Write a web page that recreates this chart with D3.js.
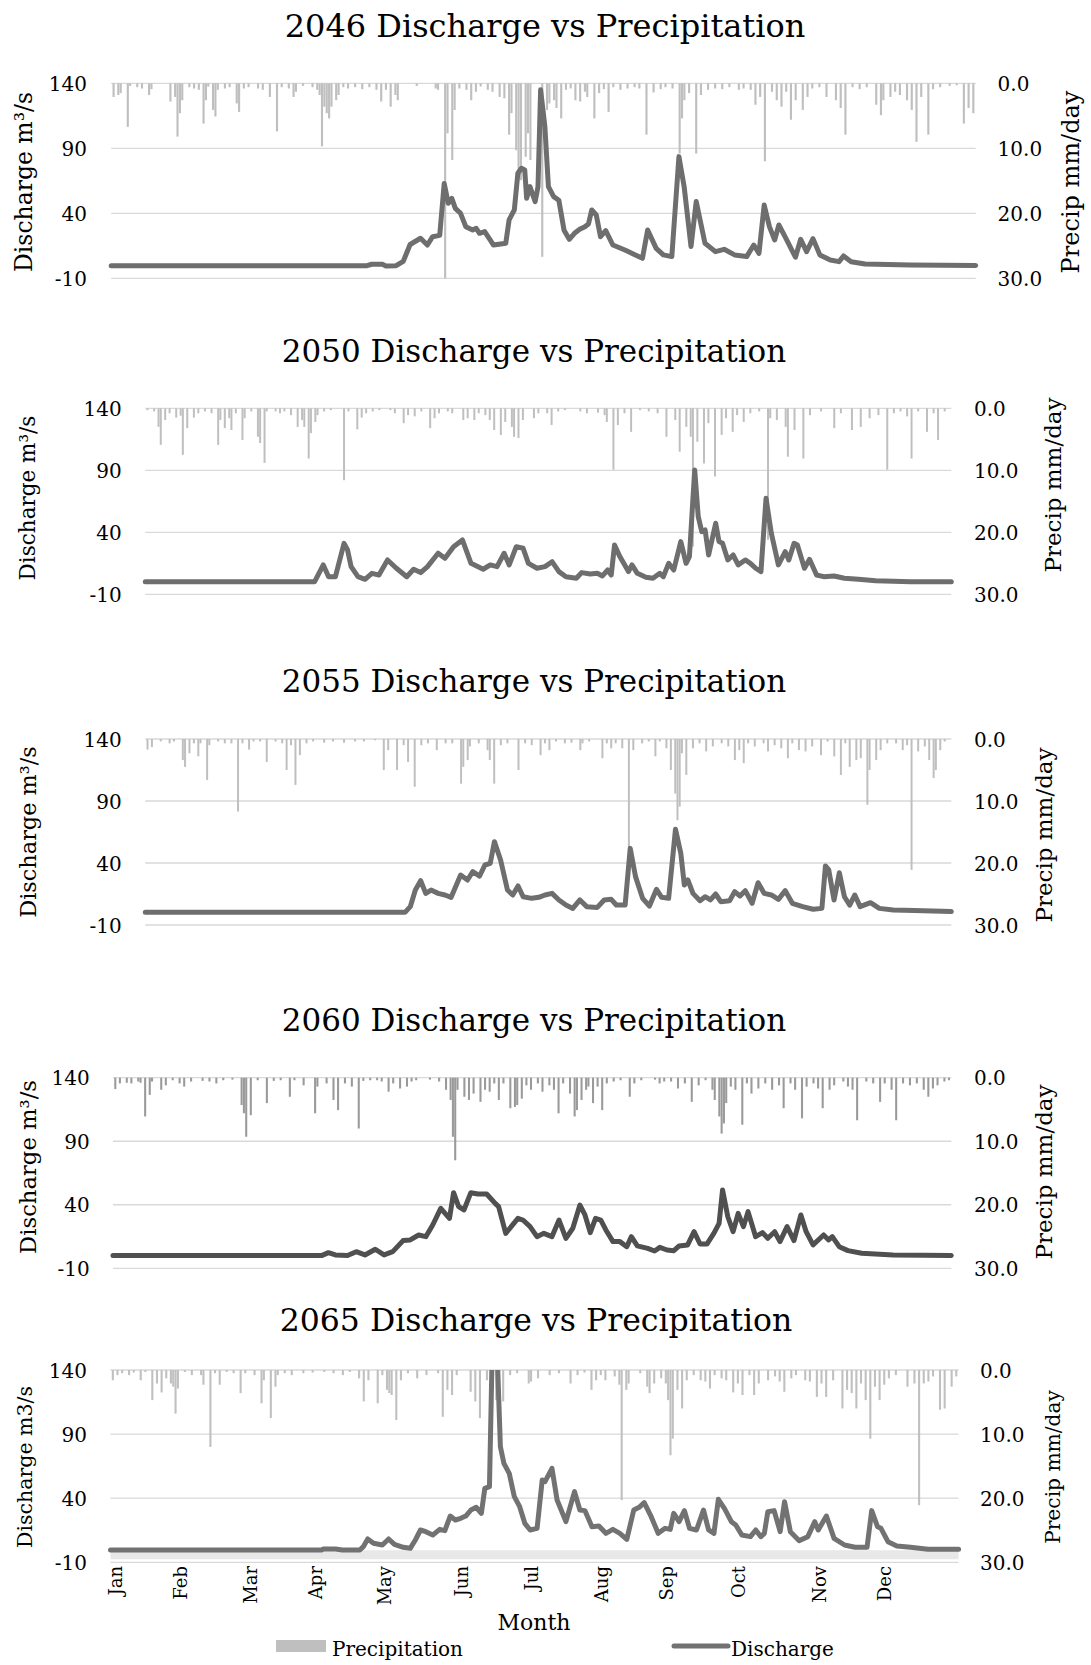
<!DOCTYPE html>
<html>
<head>
<meta charset="utf-8">
<script src="https://cdn.jsdelivr.net/npm/d3@7"></script>
<style>
  body { margin: 0; background: #fff; }
  svg text { font-family: "DejaVu Serif", serif; fill: #000; }
</style>
</head>
<body>
<svg id="chart" width="1091" height="1665"></svg>
<script>
// ---- data: [day of year, value] ----
const years = ["2046", "2050", "2055", "2060", "2065"];
const dischargeTicks = [-10, 40, 90, 140];
const precipTicks = [0, 10, 20, 30];
const months = ["Jan","Feb","Mar","Apr","May","Jun","Jul","Aug","Sep","Oct","Nov","Dec"];
const monthDays = [2, 30, 60, 88, 118, 151, 181, 211, 239, 270, 305, 333];
const band2065 = [-7.6, -0.6];

const discharge2046 = [[0,-0.3],[108,-0.3],[110,0.8],[114.5,0.8],[116,-0.5],[120.3,-0.3],[123.3,3],[126.2,16],[130.6,20.8],[133.5,15.6],[135.7,22],[138.7,23],[140.6,63],[142.3,47.7],[143.8,51.5],[145.3,43.8],[147.5,40],[149.7,29.7],[152.6,27.2],[154.1,28.5],[155.5,24.6],[157.7,25.9],[160,19.5],[161.4,15.6],[164.4,16.4],[166.6,17],[168,35],[170.2,42.6],[171.7,70.8],[173.2,74.6],[174.6,73.3],[175.4,51.5],[176.8,60.5],[179,49],[180.2,60.5],[181.3,135],[183.1,106.7],[184.6,60.5],[186.8,52.8],[189,50],[191.2,27],[193.4,20],[195.6,24.6],[197.8,27.7],[200,29.7],[201.5,31.8],[202.9,42.6],[204.8,38.7],[206.6,22],[208.8,26.7],[211.8,15.6],[216.9,11.8],[221.3,8],[224.3,5.4],[226.5,27.2],[230.1,13],[233.1,8],[236.7,6.7],[239.7,83.6],[241.9,60.5],[244.8,14.4],[247,49],[250.7,17],[255.1,10.5],[258.8,12.3],[263.2,8],[268.3,6.7],[271.3,15.6],[273.5,9.2],[275.7,46.4],[277.9,29.7],[280.1,19.5],[281.9,31],[284.5,22],[288.9,6.2],[291.1,20],[293.6,10.5],[296.3,20.5],[299.2,8],[303.6,4.1],[307.3,2.8],[309.2,7.2],[312.4,2.8],[318.3,1],[337.4,0.3],[365,-0.2]];
const precip2046 = [[1,2.1],[3,1.8],[4,1.5],[7,6.7],[8,0.4],[11,0.6],[13,0.8],[16,1.8],[17,0.9],[25,2.8],[27,2.1],[28,8.2],[29,4.6],[30,2.6],[33,0.6],[35,0.8],[37,1],[39,6.2],[40,2.6],[41,0.5],[43,4.1],[44,5.1],[45,1],[48,0.8],[50,0.6],[53,3.1],[54,4.4],[56,0.8],[58,0.6],[62,0.8],[64,1],[67,2.1],[70,7.4],[72,0.6],[75,0.8],[77,2.1],[78,1.3],[81,0.4],[85,0.6],[87,1],[88,1.8],[89,9.7],[90,3.6],[91,4.6],[92,5.4],[93,3.6],[95,2.6],[96,1.8],[98,0.6],[100,0.8],[103,0.6],[106,0.9],[109,0.6],[112,1],[114,2.8],[116,1],[118,3.6],[120,1.8],[121,2.6],[129,0.4],[137,0.8],[138,1],[141,30],[142,7.7],[144,11.8],[145,4.1],[147,0.8],[150,1],[152,2.6],[154,1.3],[156,0.5],[159,1],[161,1.3],[164,2.1],[166,2.3],[168,7.9],[169,4.6],[171,10.3],[172,13.3],[173,14.9],[175,11.3],[176,7.7],[177,11.8],[182,26.7],[184,4.1],[185,3.1],[187,2.6],[188,3.8],[190,5.4],[192,1],[194,0.8],[196,2.6],[198,2.8],[200,1.3],[201,2.1],[204,5.4],[206,1.5],[208,0.9],[210,4.4],[212,0.6],[215,1],[218,0.8],[221,0.6],[223,0.8],[226,7.9],[229,1.4],[232,0.9],[234,0.6],[237,0.8],[240,10.8],[241,5.4],[242,2.6],[244,1.5],[247,10.8],[249,1.8],[252,1],[255,0.8],[258,0.9],[261,0.6],[265,1],[267,0.8],[270,1],[272,3.3],[274,2.1],[276,12],[279,1.3],[281,2.6],[283,3.6],[285,1.3],[287,5.6],[289,2.6],[292,4.1],[294,2.1],[296,0.8],[299,0.6],[302,2.1],[306,2.6],[308,3.8],[310,7.9],[313,0.6],[316,0.9],[319,0.6],[323,3.3],[325,4.9],[326,2.6],[329,2.1],[331,1.3],[333,1.8],[336,2.6],[338,4.1],[340,9],[342,2.1],[345,7.9],[347,0.9],[350,0.6],[354,0.4],[357,0.3],[360,6.2],[362,3.8],[364,4.6]];

const discharge2050 = [[0,0.2],[76.7,0.2],[80.6,13.7],[83,4.2],[86.1,4.2],[90,31.1],[91.6,25.8],[93.2,12.3],[96.3,4.2],[99.5,2.1],[102.6,6.9],[105.8,5.6],[109.7,17.7],[113.7,11],[118.4,4.2],[121.5,10.2],[124.7,7.5],[127.8,12.3],[132.6,23.1],[135.7,19],[139.6,28.4],[143.6,33.8],[147.5,15],[153,10.2],[156.2,13.7],[159.3,12.3],[162.5,23.1],[164.8,13.7],[168,28.4],[171.1,27.1],[173.5,15],[177.4,11],[181,12.3],[184.2,16.3],[187.3,8.3],[190.5,4.2],[195.2,2.9],[197.6,7.5],[201.5,6.4],[204.7,6.9],[207,4.8],[209.4,9.6],[211,5.6],[212.5,29.8],[214.9,20.4],[218.8,8.3],[220.4,13.7],[222.8,6.9],[226.7,3.7],[229.9,2.9],[233,6.9],[234.6,4.2],[237,15],[239.3,9.6],[242.5,32.5],[244.9,15],[246.4,20.4],[248.8,90.3],[250.4,52.6],[252,40.5],[253.5,41.9],[255.1,21.7],[258.3,47.3],[259.8,32.5],[261.4,31.1],[263.8,17.7],[266.2,21.7],[268.5,13.7],[271.7,17.7],[274,15],[276.4,11],[278.8,8.3],[281.1,67.4],[283.5,39.2],[286.7,13.7],[289.8,24.4],[291.4,17.7],[293.8,31.1],[295.3,29.8],[298.5,11],[300.8,18.2],[304,5.6],[307.2,4.2],[311.9,4.8],[316.6,2.9],[322.9,2.1],[330.8,1],[346.6,0.2],[365,0.2]];
const precip2050 = [[1,0.3],[4,0.5],[6,3],[7,5.9],[9,1.9],[11,0.8],[14,1.5],[16,1.2],[17,7.5],[19,3.2],[22,1.5],[24,0.8],[27,0.5],[30,0.8],[33,5.9],[34,1.9],[36,3.2],[38,1.6],[39,3.5],[41,0.8],[44,5.1],[45,1.6],[48,0.5],[51,4.6],[52,5.6],[54,8.8],[55,0.5],[59,0.5],[61,0.8],[63,0.5],[66,1.1],[69,3],[71,1.9],[72,3],[74,8.1],[75,4],[77,2.2],[78,1.1],[81,0.5],[84,0.3],[90,11.6],[92,0.5],[96,3.4],[98,1.5],[100,0.8],[103,0.5],[106,0.3],[111,0.3],[113,0.8],[117,2.4],[119,1.1],[122,1.3],[125,0.5],[129,3.2],[131,1.6],[133,0.8],[137,0.5],[139,0.8],[144,1.9],[146,1.6],[149,1.9],[151,0.8],[154,1.1],[156,1.9],[158,3.5],[161,4.3],[163,2.2],[166,3],[167,4.6],[169,4.8],[171,1.9],[176,1.6],[178,0.8],[182,0.8],[184,2.7],[187,0.5],[190,0.3],[197,0.5],[200,0.8],[205,0.7],[208,1.1],[209,2.2],[212,9.9],[214,2.7],[217,0.8],[220,3.8],[224,0.3],[228,0.5],[232,0.8],[236,4.6],[240,1.9],[242,7],[245,3],[247,4.6],[248,22.3],[250,5.4],[253,8.9],[255,2.4],[258,11],[261,4.3],[263,1.6],[266,3.8],[268,1.1],[271,2.2],[274,0.8],[278,0.5],[282,21.2],[283,1.6],[286,1.9],[290,3],[291,7.8],[294,3.5],[298,8.1],[301,1.1],[306,0.5],[312,3.2],[315,0.8],[320,3.5],[324,3],[328,1.6],[332,1.1],[336,9.9],[339,0.8],[342,0.5],[345,1.3],[347,8.1],[350,0.5],[354,3.8],[357,0.8],[359,5.1],[362,0.5]];

const discharge2055 = [[0,0.2],[117.6,0.2],[120,4.8],[122.3,18.2],[124.7,25.8],[127,15.5],[129.4,18.2],[132.6,15.5],[135.7,14.2],[138.5,12.3],[142.8,30.3],[145.9,26.3],[148.3,33],[151.4,29.5],[153.8,38.4],[156.2,39.7],[158.1,57.2],[160.9,42.4],[164,18.2],[166.4,14.2],[168.8,21.5],[171.1,12.8],[175,11.5],[178.2,12.3],[181,14.2],[184.2,15.5],[187.3,10.2],[190.5,6.1],[193.6,3.4],[196.8,10.2],[199.9,4.8],[204.7,4.2],[207.8,10.2],[211,10.7],[213.3,6.1],[217.3,6.1],[219.6,51.8],[222,29],[225.2,11.5],[228.3,5.3],[231.5,18.8],[233.8,12.3],[237,11.5],[240.1,67.2],[242.5,47.8],[244.1,22.3],[245.7,26.3],[248,15.5],[251.2,9.6],[253.5,12.8],[255.9,10.2],[258.3,15],[260.6,8.8],[264.6,9.6],[266.9,16.9],[269.3,13.4],[271.7,17.7],[274.8,7.5],[277.5,24.1],[280.3,15.5],[283.5,14.2],[286.7,10.7],[289.8,17.7],[293,7.5],[297.7,4.8],[302.4,2.7],[306.4,3.4],[308,37.6],[309.5,34.4],[311.9,10.2],[314.3,32.2],[316.6,12.8],[319,6.1],[321.3,14.2],[323.7,4.8],[328.4,8],[332.4,3.4],[338.7,2.1],[348.2,1.6],[365,0.8]];
const precip2055 = [[1,1.7],[3,1.3],[7,0.4],[11,0.7],[13,0.4],[17,3.4],[18,4.5],[20,2.3],[22,0.7],[24,2.8],[25,0.7],[28,6.6],[29,1],[33,0.4],[36,0.7],[39,0.7],[42,11.7],[44,0.7],[47,1.7],[49,0.4],[52,0.4],[55,3.7],[59,0.4],[62,0.7],[64,5],[66,1],[68,7.4],[70,2.6],[73,0.7],[76,0.4],[81,0.6],[85,0.4],[90,0.6],[95,0.4],[99,0.4],[104,0.2],[108,5],[110,1.8],[114,5],[117,1],[119,3.7],[122,7.7],[125,1],[128,0.7],[132,1.8],[136,0.7],[139,0.7],[143,7.2],[144,4.5],[146,3.4],[147,1.2],[151,0.7],[155,1.8],[156,3.4],[158,7.2],[161,1],[164,0.7],[169,5],[172,0.7],[175,1],[179,2.6],[181,0.7],[183,1.8],[186,0.4],[190,0.7],[193,0.6],[197,1.8],[198,0.7],[201,0.4],[207,3.1],[209,0.7],[211,1.5],[213,0.7],[216,1.5],[219,17.6],[221,1.8],[225,0.7],[228,0.4],[231,2.8],[233,0.4],[236,1.5],[238,5],[240,8.8],[241,13.1],[242,10.9],[243,2.3],[245,5.8],[248,1.5],[251,0.7],[254,2],[257,1.2],[261,0.7],[264,1.2],[267,3.4],[269,1.8],[271,3.9],[273,0.7],[276,1.2],[280,0.7],[282,2],[285,1],[288,1.5],[291,3.1],[293,0.7],[296,1.8],[299,2],[302,1.2],[306,2.6],[309,0.4],[312,2.8],[315,5.8],[317,0.7],[319,4.5],[322,3.4],[324,3.1],[327,10.6],[328,5],[331,3.4],[333,1.8],[336,0.7],[340,0.7],[343,1.8],[345,1],[347,21.1],[350,2],[353,1.2],[355,3.4],[357,6.3],[358,5],[360,1.8],[362,0.4]];

const discharge2060 = [[0,0],[90.8,0],[93.8,2.3],[96.8,0.5],[102.1,0],[105.9,3.1],[109.7,0.5],[114.2,5],[118,0.5],[121.8,3.1],[126.3,11.8],[129.4,12.3],[133.1,16.2],[136.2,14.9],[139.2,24.1],[142.7,37.2],[146.5,29.3],[148.3,49.5],[150.5,38.5],[152.8,35.9],[155.8,49.5],[158.9,48.5],[162.7,48.5],[166.4,41.1],[167.9,38.5],[171,17.5],[176.3,29.3],[178.5,28],[181.6,22.8],[184.6,14.9],[187.6,17.5],[191.1,14.9],[194.2,28],[197.2,13.6],[200.2,21.5],[203.3,39.8],[205.5,32],[207.8,18.1],[210.1,29.3],[212.4,28],[214.6,20.2],[217.7,11],[220.7,11],[223.7,7],[225.7,14.9],[228.3,7.6],[232.8,5.7],[235.8,3.6],[238.1,6.5],[241.2,4.4],[244.2,3.9],[246.5,7.6],[250.2,8.4],[253,18.8],[255.6,9.1],[258.6,9.1],[261.6,17.5],[263.9,25.4],[265.4,51.6],[267.7,30.6],[270,18.8],[272.2,33.2],[274.5,22.8],[276.5,34.6],[279.8,14.9],[282.8,18.1],[285.1,13.6],[288.1,18.8],[290.4,11],[293.5,22.8],[296.5,11.8],[299.5,32],[301.8,18.8],[304.8,8.4],[309.4,16.2],[311.6,12.3],[313.2,14.9],[316.2,7],[320,3.9],[326,1.8],[339.7,0.5],[365,0]];
const precip2060 = [[1,1.8],[3,0.9],[6,0.8],[8,0.9],[11,0.6],[12,0.8],[14,6.1],[16,2.7],[17,0.6],[21,1.9],[23,1.2],[26,0.4],[29,0.9],[31,1.4],[34,0.6],[39,0.5],[42,0.6],[45,0.9],[48,0.4],[52,0.3],[56,4.3],[57,5.6],[58,9.3],[60,5.9],[63,0.4],[67,4],[70,0.5],[73,0.4],[77,3],[79,0.4],[83,1.2],[88,5.6],[89,1.4],[93,0.9],[96,3.5],[98,5.1],[101,0.9],[104,1.4],[107,8],[109,0.5],[112,0.4],[115,0.4],[117,0.6],[120,2.2],[122,0.9],[125,1.7],[128,1.4],[130,0.6],[132,0.4],[138,0.3],[142,0.6],[145,1.9],[147,3.5],[148,9.3],[149,13],[150,1.9],[153,3],[155,3.5],[157,2.5],[160,3.8],[162,1.9],[164,2.2],[166,0.9],[168,3.5],[170,0.9],[173,4.8],[175,4.6],[176,4.3],[178,3.3],[180,1.2],[182,1.9],[185,0.9],[187,2.2],[190,1.2],[192,1.9],[194,5.6],[196,0.9],[199,2.5],[201,6.1],[202,5.1],[204,3.5],[206,1.9],[207,1.4],[209,4],[211,1.4],[213,5.1],[215,0.9],[218,0.6],[221,0.4],[225,3],[227,0.9],[230,0.4],[236,0.3],[238,0.9],[240,0.6],[243,0.6],[246,1.7],[249,0.9],[252,3.8],[255,1.2],[258,0.4],[261,1.9],[262,3.5],[264,6.1],[265,8.8],[266,7.2],[267,4],[269,1.4],[271,1.9],[274,7.4],[276,0.9],[278,2.5],[281,1.7],[284,0.9],[287,1.9],[290,1.2],[292,4.8],[295,0.9],[297,1.9],[300,6.4],[302,1.4],[305,0.9],[307,1.7],[309,4.8],[312,1.9],[314,1.2],[318,0.6],[320,1.4],[322,1.9],[324,6.7],[328,0.6],[331,0.9],[334,3.8],[336,0.9],[339,1.9],[341,6.7],[344,0.9],[347,1.2],[350,0.9],[353,1.9],[355,3],[357,1.7],[359,1.2],[362,0.6],[364,0.4]];

const discharge2065 = [[0,-0.4],[90.8,-0.4],[91.6,0.4],[96.8,0.4],[99.8,-0.4],[107.3,-0.4],[108.8,2.2],[110.7,8.2],[113.2,4.8],[117,3.5],[119.7,8.2],[122.2,4],[126,1.7],[129,0.9],[131.2,7.4],[133.4,15.2],[135.7,13.9],[138.7,11.3],[141.7,15.7],[143.9,14.7],[146.2,26.1],[148.4,23],[150.7,24.3],[152.9,26.1],[155.1,30.8],[157.4,32.9],[159.6,28.2],[161.1,47.7],[163.1,49],[164.5,175],[166,175],[167.8,80.2],[169.3,67.2],[171.6,59.4],[173.8,41.2],[176.1,33.4],[178.3,20.4],[180.6,15.2],[183.6,16.5],[185.8,54.2],[187,52.9],[190,63.3],[192.2,38.6],[196,21.7],[199.7,45.1],[202,30.8],[204.2,30.3],[207.2,17.8],[210.2,18.3],[213.2,12.6],[216.2,15.7],[219.2,12.6],[222.2,7.9],[225.2,30.8],[227.5,32.9],[229.7,36.5],[232.7,25.6],[235.7,12.6],[238.7,16.5],[240.9,15.7],[242.4,28.2],[244.7,21.7],[247,30.3],[249.2,16.5],[252.2,15.2],[255.2,30.8],[257.4,15.2],[259.7,12.6],[261.6,39.1],[264.2,32.1],[267.2,21.7],[269.1,19.1],[271.7,11.3],[275.4,10],[277.7,15.2],[279.9,10],[281.4,12.6],[282.9,29.5],[285.6,30.3],[288.2,13.9],[290.1,37.3],[292.6,13.9],[296.4,6.9],[300.1,10],[303.1,21.7],[304.6,15.2],[308.1,26.1],[311.4,8.7],[315.9,3.5],[320.4,1.7],[325.6,1.7],[327.6,30.3],[330.1,17.8],[331.6,16.5],[334.6,6.1],[338.4,2.7],[344.3,1.7],[351.8,0.1],[365,0.1]];
const precip2065 = [[1,1.6],[3,0.8],[5,0.5],[8,0.8],[10,0.4],[13,1.6],[15,0.3],[18,4.7],[20,2.1],[22,3.5],[24,1.3],[26,2.1],[27,2.6],[28,6.8],[29,2.9],[32,0.3],[35,0.8],[39,0.8],[40,2.3],[43,12],[45,0.5],[47,2.3],[50,0.3],[53,0.5],[56,3.6],[58,0.5],[62,0.8],[65,5.2],[66,1.6],[69,7.5],[71,2.6],[72,0.8],[75,0.5],[78,0.8],[83,0.5],[87,0.4],[92,0.3],[96,0.5],[100,0.8],[103,0.3],[107,1.3],[109,4.9],[111,1.6],[115,5.2],[117,0.8],[119,3.1],[120,3.6],[121,3.9],[123,7.8],[125,1.6],[128,0.5],[132,1.3],[136,0.8],[141,0.5],[143,7.3],[145,3.1],[147,3.9],[149,0.8],[155,3.4],[157,4.9],[159,7.5],[162,1.6],[166,4.7],[169,4.9],[172,0.8],[175,0.5],[180,2.1],[181,1.8],[184,1.3],[189,0.8],[193,0.5],[198,2.1],[201,0.8],[204,0.4],[207,3.1],[209,1.6],[211,0.8],[213,1.6],[217,1],[219,2.3],[220,20.3],[222,3.1],[223,2.1],[228,0.5],[231,2.6],[232,3.6],[234,2.1],[237,1.3],[239,2.1],[240,4.7],[241,13.3],[242,10.7],[244,3.1],[246,6],[248,1.6],[251,0.8],[254,1.6],[256,1.8],[258,2.9],[260,0.8],[263,1.3],[265,1.6],[268,3.5],[270,2.1],[272,3.9],[275,0.8],[277,3.9],[279,2.1],[283,1.6],[286,1],[288,1.8],[290,3.4],[293,1.3],[295,0.8],[299,1.6],[301,1.8],[304,4.2],[306,2.1],[308,4.2],[311,1.6],[315,6],[317,3.1],[319,3.6],[321,6],[323,2.1],[325,4.7],[327,10.7],[329,2.6],[331,4.7],[333,2.3],[335,1.3],[338,0.8],[343,2.6],[346,2.1],[348,21.1],[350,2.1],[352,1.8],[354,1],[357,6.2],[359,6],[362,2.6],[364,1]];

// ---- layout of each panel ----
const panels = [
  {year: years[0], q: discharge2046, p: precip2046, x0: 111.2, x1: 975.7, top: 83.3, bot: 278.3,
   tx: 545, ty: 36.7, ts: 32, lx: 87, rx: 997.6, ltx: 26, lty: 182, lts: 23.5, rtx: 1072.5, rty: 182, rts: 24,
   qLabel: "Discharge m³/s", bar: "#bfbfbf", line: "#6e6e6e"},
  {year: years[1], q: discharge2050, p: precip2050, x0: 145.3, x1: 951.3, top: 408.3, bot: 594.3,
   tx: 534, ty: 361.7, ts: 31, lx: 121.7, rx: 974, ltx: 29.5, lty: 498, lts: 21.5, rtx: 1055, rty: 485, rts: 23,
   qLabel: "Discharge m³/s", bar: "#bfbfbf", line: "#6e6e6e"},
  {year: years[2], q: discharge2055, p: precip2055, x0: 145.3, x1: 951.3, top: 739, bot: 925,
   tx: 534, ty: 692, ts: 31, lx: 121.7, rx: 974, ltx: 29.5, lty: 832, lts: 22.4, rtx: 1046, rty: 835, rts: 23,
   qLabel: "Discharge m³/s", bar: "#bfbfbf", line: "#6e6e6e"},
  {year: years[3], q: discharge2060, p: precip2060, x0: 113, x1: 951.3, top: 1077.7, bot: 1268.3,
   tx: 534, ty: 1031, ts: 31, lx: 89.7, rx: 974, ltx: 29.5, lty: 1167, lts: 22.7, rtx: 1046, rty: 1172, rts: 23,
   qLabel: "Discharge m³/s", bar: "#9a9a9a", line: "#505050"},
  {year: years[4], q: discharge2065, p: precip2065, x0: 110.5, x1: 958.6, top: 1370, bot: 1562.3,
   tx: 536, ty: 1331, ts: 31.5, lx: 87, rx: 980, ltx: 26, lty: 1467, lts: 20.5, rtx: 1055, rty: 1467, rts: 20.2,
   qLabel: "Discharge m3/s", bar: "#c0c0c0", line: "#727272"}
];

const svg = d3.select("#chart");
const defs = svg.append("defs");

panels.forEach((pn, i) => {
  const x = d3.scaleLinear().domain([0, 365]).range([pn.x0, pn.x1]);
  const yQ = d3.scaleLinear().domain([-10, 140]).range([pn.bot, pn.top]);
  const yP = d3.scaleLinear().domain([0, 30]).range([pn.top, pn.bot]);
  const g = svg.append("g").attr("class", "panel");

  // title
  g.append("text").attr("x", pn.tx).attr("y", pn.ty)
    .attr("text-anchor", "middle").style("font-size", pn.ts + "px")
    .text(pn.year + " Discharge vs Precipitation");

  // gridlines
  g.selectAll("line.grid").data(dischargeTicks).join("line")
    .attr("class", "grid")
    .attr("x1", pn.x0).attr("x2", pn.x1)
    .attr("y1", d => yQ(d)).attr("y2", d => yQ(d))
    .attr("stroke", "#d9d9d9").attr("stroke-width", 1.3);

  // left axis
  const left = g.append("g").attr("transform", "translate(" + pn.lx + ",0)")
    .call(d3.axisLeft(yQ).tickValues(dischargeTicks).tickFormat(d => String(d)).tickSize(0).tickPadding(0));
  left.select(".domain").remove();
  left.selectAll("text").attr("dy", "0.35em")
    .style("font-family", "DejaVu Serif").style("font-size", "20px");

  // right axis
  const right = g.append("g").attr("transform", "translate(" + pn.rx + ",0)")
    .call(d3.axisRight(yP).tickValues(precipTicks).tickFormat(d3.format(".1f")).tickSize(0).tickPadding(0));
  right.select(".domain").remove();
  right.selectAll("text").attr("dy", "0.35em")
    .style("font-family", "DejaVu Serif").style("font-size", "20px");

  // axis titles
  g.append("text")
    .attr("transform", "translate(" + pn.ltx + "," + pn.lty + ") rotate(-90)")
    .attr("text-anchor", "middle").attr("dy", "0.27em")
    .style("font-size", pn.lts + "px").text(pn.qLabel);
  g.append("text")
    .attr("transform", "translate(" + pn.rtx + "," + pn.rty + ") rotate(-90)")
    .attr("text-anchor", "middle").attr("dy", "0.27em")
    .style("font-size", pn.rts + "px").text("Precip mm/day");

  // precipitation bars hanging from the top
  const bw = (pn.x1 - pn.x0) / 365 * 0.9;
  g.selectAll("rect.bar").data(pn.p).join("rect")
    .attr("class", "bar")
    .attr("x", d => x(d[0]) - bw / 2).attr("width", bw)
    .attr("y", yP(0)).attr("height", d => yP(d[1]) - yP(0))
    .attr("fill", pn.bar);

  if (i === 4) {
    g.append("rect")
      .attr("x", pn.x0).attr("width", pn.x1 - pn.x0)
      .attr("y", yQ(band2065[1])).attr("height", yQ(band2065[0]) - yQ(band2065[1]))
      .attr("fill", "#e8e8e8");
  }

  // discharge line, clipped to the plot
  const clipId = "clip" + i;
  defs.append("clipPath").attr("id", clipId).append("rect")
    .attr("x", pn.x0 - 6).attr("y", pn.top)
    .attr("width", pn.x1 - pn.x0 + 12).attr("height", pn.bot - pn.top + 6);

  const line = d3.line().x(d => x(d[0])).y(d => yQ(d[1]));
  g.append("path").datum(pn.q)
    .attr("clip-path", "url(#" + clipId + ")")
    .attr("d", line)
    .attr("fill", "none").attr("stroke", pn.line)
    .attr("stroke-width", 5).attr("stroke-linejoin", "round").attr("stroke-linecap", "round");

  // months under the last panel
  if (i === 4) {
    const bottom = g.append("g").attr("transform", "translate(0,1566)")
      .call(d3.axisBottom(x).tickValues(monthDays).tickFormat((d, k) => months[k]).tickSize(0));
    bottom.select(".domain").remove();
    bottom.selectAll("text")
      .attr("transform", "rotate(-90)").attr("x", 0).attr("y", 0).attr("dy", "0.35em")
      .style("text-anchor", "end")
      .style("font-family", "DejaVu Serif").style("font-size", "18px");

    g.append("text").attr("x", 534).attr("y", 1630).attr("text-anchor", "middle")
      .style("font-size", "22px").text("Month");
  }
});

// legend
const legend = svg.append("g");
legend.append("rect").attr("x", 276).attr("y", 1640).attr("width", 50).attr("height", 12).attr("fill", "#bfbfbf");
legend.append("text").attr("x", 332).attr("y", 1656).style("font-size", "20px").text("Precipitation");
legend.append("line").attr("x1", 674).attr("x2", 728).attr("y1", 1646).attr("y2", 1646)
  .attr("stroke", "#727272").attr("stroke-width", 5).attr("stroke-linecap", "round");
legend.append("text").attr("x", 731).attr("y", 1656).style("font-size", "20px").text("Discharge");
</script>
</body>
</html>
